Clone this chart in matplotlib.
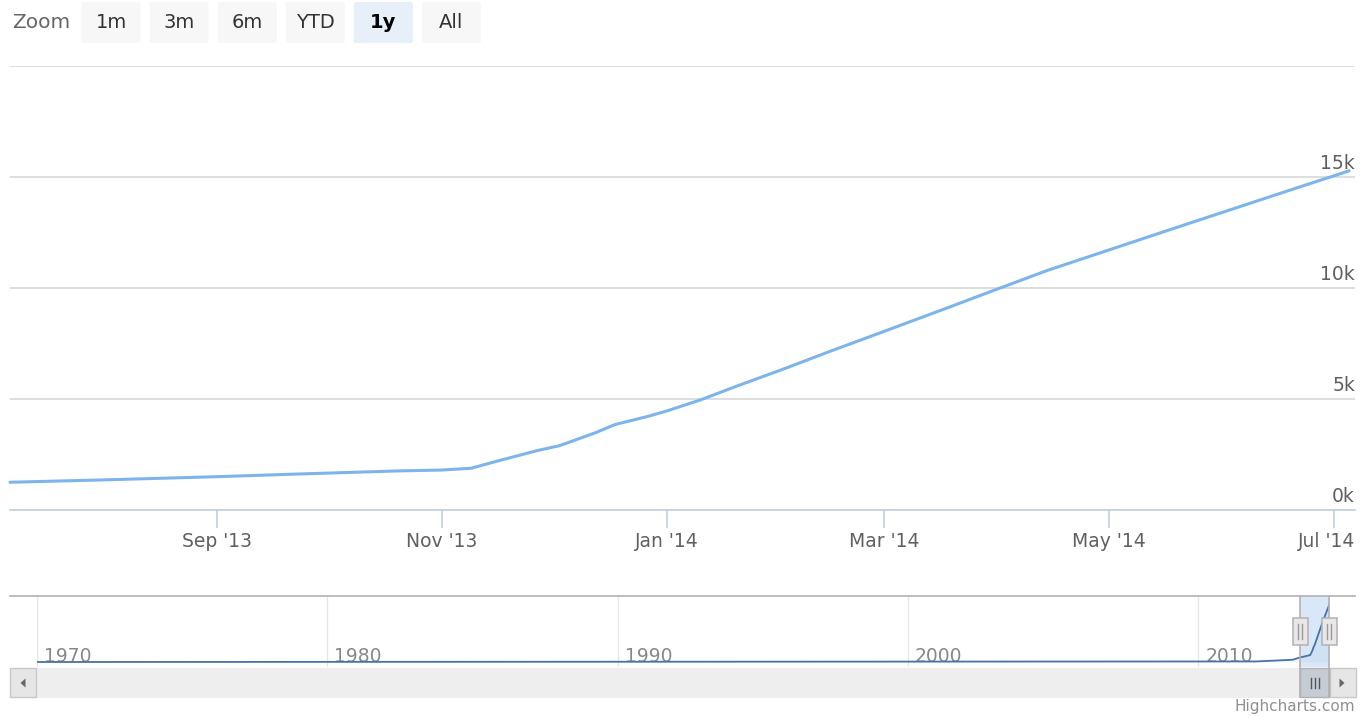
import matplotlib
matplotlib.use('Agg')
import matplotlib.pyplot as plt
import matplotlib.dates as mdates
import matplotlib.patches as mpatches
from matplotlib.transforms import ScaledTranslation
import pandas as pd

W, H = 1360, 719

# ---------------- data ----------------
dates = ['2013-07-07', '2013-07-31', '2013-09-01', '2013-09-23', '2013-10-20',
         '2013-11-01', '2013-11-09', '2013-11-16', '2013-11-27', '2013-12-03',
         '2013-12-13', '2013-12-18', '2013-12-27', '2014-01-01', '2014-01-10',
         '2014-01-20', '2014-02-02', '2014-02-14', '2014-03-01', '2014-03-18',
         '2014-03-30', '2014-04-14', '2014-05-01', '2014-05-16', '2014-06-06',
         '2014-06-21', '2014-07-01', '2014-07-05']
values = [1250, 1350, 1500, 1620, 1760,
          1800, 1880, 2200, 2680, 2900,
          3500, 3850, 4220, 4460, 4950,
          5580, 6370, 7130, 8050, 9100,
          9850, 10780, 11720, 12550, 13700,
          14520, 15060, 15280]

nav_early_dates = ['1970-01-01', '2012-01-01', '2013-04-01']
nav_early_values = [0, 150, 600]

y_ticks = [0, 5000, 10000, 15000, 20000]
y_tick_labels = ['0k', '5k', '10k', '15k', '']
x_ticks = ['2013-09-01', '2013-11-01', '2014-01-01', '2014-03-01', '2014-05-01', '2014-07-01']
x_tick_labels = ["Sep '13", "Nov '13", "Jan '14", "Mar '14", "May '14", "Jul '14"]
nav_ticks = ['1970-01-01', '1980-01-01', '1990-01-01', '2000-01-01', '2010-01-01']
nav_tick_labels = ['1970', '1980', '1990', '2000', '2010']
zoom_buttons = ['1m', '3m', '6m', 'YTD', '1y', 'All']
selected_button = '1y'
view_start, view_end = '2013-07-07', '2014-07-06 14:00'
nav_start = '1970-01-01'

plt.rcParams['font.family'] = ['DejaVu Sans']


def rect(x0, y0, x1, y1):
    return [x0 / W, 1 - y1 / H, (x1 - x0) / W, (y1 - y0) / H]


fig = plt.figure(figsize=(W / 100, H / 100), dpi=100)
fig.patch.set_facecolor('white')

# ---------------- main chart ----------------
ax = fig.add_axes(rect(10, 66, 1355, 510))
d = pd.to_datetime(dates)
ax.plot(d, values, color='#7cb5ec', lw=2.2, solid_joinstyle='round',
        solid_capstyle='round', zorder=3, clip_on=False)
ax.set_xlim(pd.Timestamp(view_start), pd.Timestamp(view_end))
ax.set_ylim(0, 20000)
for s in ['top', 'right', 'left']:
    ax.spines[s].set_visible(False)
ax.spines['bottom'].set_color('#C0D0E0')
ax.spines['bottom'].set_linewidth(1.2)
ax.spines['bottom'].set_zorder(2)
ax.set_yticks(y_ticks)
ax.tick_params(axis='y', left=False, labelleft=False, right=False, labelright=False)
ax.grid(axis='y', color='#D8D8D8', lw=1.2)
ax.set_axisbelow(True)
ax.set_facecolor('none')
ylab_trans = ax.get_yaxis_transform() + ScaledTranslation(0, 4 / 100, fig.dpi_scale_trans)
for v, lab in zip(y_ticks, y_tick_labels):
    if lab:
        ax.text(1.0, v, lab, transform=ylab_trans, ha='right', va='bottom',
                fontsize=13.5, color='#606060')

ax.set_xticks(pd.to_datetime(x_ticks))
ax.set_xticklabels(x_tick_labels)
ax.tick_params(axis='x', direction='out', length=13, width=1.2, color='#C0D0E0',
               labelsize=13.5, labelcolor='#606060', pad=3)
last = ax.get_xticklabels()[-1]
last.set_transform(last.get_transform() + ScaledTranslation(-8 / 100, 0, fig.dpi_scale_trans))

# ---------------- navigator ----------------
nav = fig.add_axes(rect(36.7, 596, 1329.3, 667))
nav_d = list(pd.to_datetime(nav_early_dates)) + list(d)
nav_v = list(nav_early_values) + list(values)
nav.axvspan(pd.Timestamp(view_start), pd.Timestamp(view_end),
            color=(128 / 255, 179 / 255, 236 / 255, 0.3), lw=0, zorder=0)
nav.fill_between(nav_d, nav_v, 0, color='#4572A7', alpha=0.05, lw=0, zorder=1)
nav.plot(nav_d, nav_v, color='#4572A7', lw=1.3, zorder=3)
nav.set_xlim(pd.Timestamp(nav_start), pd.Timestamp(view_end))
nav.set_ylim(-1340, 17700)
for s in nav.spines.values():
    s.set_visible(False)
nav.set_xticks(pd.to_datetime(nav_ticks))
nav.set_xticklabels([])
nav.tick_params(axis='both', length=0, labelbottom=False, labelleft=False)
nav.set_yticks([])
nav.grid(axis='x', color='#E6E6E6', lw=1.0)
nav.set_axisbelow(True)
nav.set_facecolor('none')
navlab_trans = nav.transData + ScaledTranslation(7 / 100, 0, fig.dpi_scale_trans)
for t, lab in zip(pd.to_datetime(nav_ticks), nav_tick_labels):
    nav.text(mdates.date2num(t), 0, lab, transform=navlab_trans, ha='left',
             va='baseline', fontsize=13.5, color='#888888', zorder=2)

# selection edges in pixels
xs0 = nav.transData.transform((mdates.date2num(pd.Timestamp(view_start)), 0))[0]
xs1 = nav.transData.transform((mdates.date2num(pd.Timestamp(view_end)), 0))[0]

# ---------------- overlay (pixel coordinates) ----------------
ov = fig.add_axes([0, 0, 1, 1], zorder=10)
ov.set_xlim(0, W)
ov.set_ylim(H, 0)
ov.axis('off')
ov.patch.set_alpha(0)

outline = '#b2b1b6'
# navigator top outline
ov.plot([10, 1355], [596, 596], color=outline, lw=1.2)

# scrollbar track
ov.add_patch(mpatches.Rectangle((10, 668), 1345, 29, facecolor='#eeeeee', edgecolor='#eeeeee', lw=0.8))
# buttons
for bx in (10, 1330):
    ov.add_patch(mpatches.Rectangle((bx, 668), 25.5, 29, facecolor='#e6e6e6', edgecolor='#c8c8c8', lw=1))
ov.add_patch(mpatches.Polygon([(25.5, 678.5), (25.5, 687.5), (20.5, 683)], closed=True,
                              facecolor='#666666', edgecolor='none'))
ov.add_patch(mpatches.Polygon([(1339.5, 678.5), (1339.5, 687.5), (1344.5, 683)], closed=True,
                              facecolor='#666666', edgecolor='none'))
# thumb
ov.add_patch(mpatches.Rectangle((xs0, 668), xs1 - xs0, 29, facecolor='#c5ccd3', edgecolor='#b2b1b6', lw=1))
cx = (xs0 + xs1) / 2
for dx in (-4, 0, 4):
    ov.plot([cx + dx, cx + dx], [678, 688], color='#555555', lw=1.0)

# selection vertical lines
for xx in (xs0, xs1):
    ov.plot([xx, xx], [596, 697], color=outline, lw=1.2)

# handles
for xx in (xs0, xs1):
    ov.add_patch(mpatches.Rectangle((xx - 7.5, 618), 15, 27, facecolor='#ebe7e8',
                                    edgecolor=outline, lw=1.1, zorder=5))
    for dx in (-2, 2):
        ov.plot([xx + dx, xx + dx], [624, 639], color='#999999', lw=1.0, zorder=6)

# range selector
ov.text(12, 22, 'Zoom', ha='left', va='center', fontsize=14.5, color='#666666')
bx0 = 81.5
for i, lab in enumerate(zoom_buttons):
    x0 = bx0 + i * 68.1
    sel = lab == selected_button
    ov.add_patch(mpatches.FancyBboxPatch((x0, 2), 59, 41,
                                         boxstyle='round,pad=0,rounding_size=2',
                                         facecolor='#e7f0f9' if sel else '#f7f7f7',
                                         edgecolor='none'))
    ov.text(x0 + 29.5, 22.5, lab, ha='center', va='center', fontsize=14,
            color='black' if sel else '#333333', fontweight='bold' if sel else 'normal')

# credits
ov.text(1355, 707, 'Highcharts.com', ha='right', va='center', fontsize=11, color='#909090')

fig.savefig('out.png', dpi=100, facecolor='white')
